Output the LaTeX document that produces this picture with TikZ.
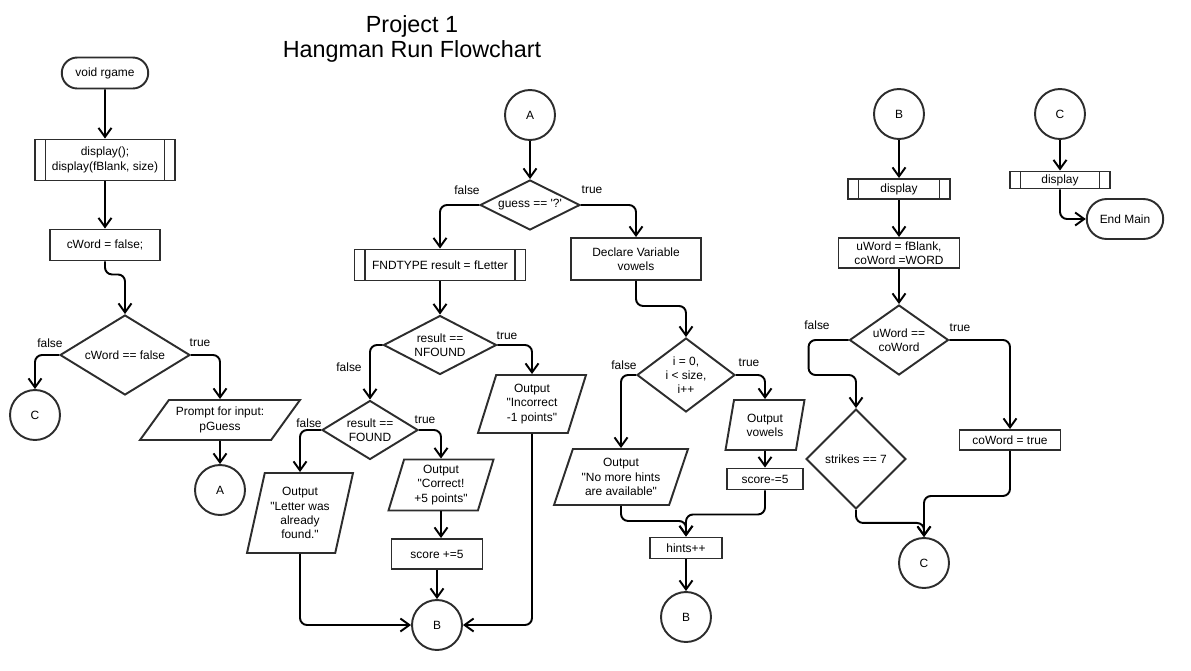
\documentclass[tikz,border=0pt]{standalone}
\usepackage{fontspec}
\newfontfamily\flowfont{Liberation Sans}
\usetikzlibrary{arrows.meta,shapes.geometric,shapes.misc}
\definecolor{mLine}{RGB}{45,45,45}
\tikzset{
  base/.style={draw=mLine, line width=1.1pt, align=center, inner sep=1pt,
    font=\flowfont\fontsize{6.8}{8.1}\selectfont},
  termbox/.style={base, rounded rectangle},
  procbox/.style={base, rectangle},
  subbox/.style={procbox, path picture={
      \draw[mLine, line width=1.1pt]
        ([xshift=2.1mm]path picture bounding box.north west) -- ([xshift=2.1mm]path picture bounding box.south west)
        ([xshift=-2.1mm]path picture bounding box.north east) -- ([xshift=-2.1mm]path picture bounding box.south east);}},
  iobox/.style 2 args={base, trapezium, trapezium left angle=#1, trapezium right angle=#2, trapezium stretches body},
  decbox/.style={base, diamond, inner sep=0pt},
  connbox/.style={base, circle, minimum size=10mm},
  flowln/.style={-{Straight Barb[length=1.8mm,width=2.6mm]}, line width=1.1pt, rounded corners=4pt},
  brlbl/.style={font=\flowfont\fontsize{6.8}{8.1}\selectfont, inner sep=0pt},
}
\begin{document}
\begin{tikzpicture}[x=0.02cm, y=-0.02cm]
  \useasboundingbox (0,0) rectangle (1191,670);
  \node[font=\flowfont\fontsize{13.3}{13.8}\selectfont, align=center] (title) at (412,39) {Project 1\\Hangman Run Flowchart};

  % void rgame
  \node[termbox, minimum width=18mm, minimum height=6.2mm] (start) at (105,73) {void rgame};
  \node[subbox, minimum width=28mm, minimum height=8.2mm] (disp1) at (105,160) {display();\\display(fBlank, size)};
  \node[procbox, minimum width=22mm, minimum height=6.2mm] (cword) at (105,245) {cWord = false;};
  \node[decbox, aspect=1.63, minimum width=26mm, minimum height=16mm] (dcword) at (125,355) {cWord == false};
  \node[connbox] (cleft) at (35,415) {C};
  \node[iobox={45}{135}, minimum width=32mm, minimum height=8mm] (prompt) at (220,420) {Prompt for input:\\pGuess};
  \node[connbox] (aleft) at (220,490) {A};

  % A: guess branch
  \node[connbox] (amid) at (530,115) {A};
  \node[decbox, aspect=2, minimum width=20mm, minimum height=10mm] (dguess) at (530,205) {guess == '?'};
  \node[subbox, minimum width=34.2mm, minimum height=6.2mm] (fnd) at (440,265) {FNDTYPE result = fLetter};
  \node[decbox, aspect=1.9, minimum width=22.6mm, minimum height=11.8mm] (dnf) at (440,345) {result ==\\NFOUND};
  \node[decbox, aspect=1.63, minimum width=19.2mm, minimum height=11.8mm] (dfo) at (370,430) {result ==\\FOUND};
  \node[iobox={72}{108}, minimum width=21.2mm, minimum height=16mm] (outfound) at (300,513) {Output\\"Letter was\\already\\found."};
  \node[iobox={70}{110}, minimum width=21mm, minimum height=10.2mm] (outright) at (441,485) {Output\\"Correct!\\+5 points"};
  \node[procbox, minimum width=18.2mm, minimum height=6mm] (scoreup) at (437,554) {score +=5};
  \node[iobox={67}{113}, minimum width=21.6mm, minimum height=11.6mm] (outwrong) at (532,404) {Output\\"Incorrect\\-1 points"};
  \node[connbox] (bmid) at (437,625) {B};

  % hint branch
  \node[procbox, minimum width=26mm, minimum height=8.4mm] (declare) at (636,259) {Declare Variable\\vowels};
  \node[decbox, aspect=1.32, minimum width=19.6mm, minimum height=14.8mm] (dloop) at (686,375) {i = 0,\\i < size,\\i++};
  \node[iobox={65}{115}, minimum width=26.8mm, minimum height=11.2mm] (outnone) at (621,477) {Output\\"No more hints\\are available"};
  \node[iobox={72}{108}, minimum width=15.8mm, minimum height=10mm] (outvow) at (765,425) {Output\\vowels};
  \node[procbox, minimum width=15.2mm, minimum height=4.2mm] (scoredn) at (765,479) {score-=5};
  \node[procbox, minimum width=14.4mm, minimum height=4.2mm] (hints) at (686,548) {hints++};
  \node[connbox] (bhint) at (686,617) {B};

  % B: check word
  \node[connbox] (btop) at (899,114) {B};
  \node[subbox, minimum width=20.4mm, minimum height=4mm] (dispb) at (899,189) {display};
  \node[procbox, minimum width=24.2mm, minimum height=6mm] (words) at (899,253) {uWord = fBlank,\\coWord =WORD};
  \node[decbox, aspect=1.41, minimum width=19.8mm, minimum height=14mm] (dwin) at (899,340) {uWord ==\\coWord};
  \node[decbox, aspect=1, minimum width=20mm, minimum height=20mm] (dlose) at (856,459) {strikes == 7};
  \node[procbox, minimum width=20.2mm, minimum height=4mm] (cotrue) at (1010,440) {coWord = true};
  \node[connbox] (cend) at (924,563) {C};

  % C: end
  \node[connbox] (ctop) at (1060,114) {C};
  \node[subbox, minimum width=20mm, minimum height=3.4mm] (dispc) at (1060,180) {display};
  \node[termbox, minimum width=16mm, minimum height=8mm] (endmain) at (1125,219) {End Main};

  % branch labels
  \node[brlbl] (f1) at (50,343) {false};
  \node[brlbl] (t1) at (200,343) {true};
  \node[brlbl] (f2) at (467,190) {false};
  \node[brlbl] (t2) at (592,190) {true};
  \node[brlbl] (f3) at (349,367) {false};
  \node[brlbl] (t3) at (507,336) {true};
  \node[brlbl] (f4) at (309,423) {false};
  \node[brlbl] (t4) at (425,420) {true};
  \node[brlbl] (f5) at (624,365) {false};
  \node[brlbl] (t5) at (749,363) {true};
  \node[brlbl] (f6) at (817,325) {false};
  \node[brlbl] (t6) at (960,328) {true};

  % connectors
  \draw[flowln] (start) -- (disp1);
  \draw[flowln] (disp1) -- (cword);
  \draw[flowln] (cword.south) -- ++(0,13) -| (dcword.north);
  \draw[flowln] (dcword.west) -| (cleft.north);
  \draw[flowln] (dcword.east) -| (prompt.north);
  \draw[flowln] (prompt) -- (aleft);

  \draw[flowln] (amid) -- (dguess);
  \draw[flowln] (dguess.west) -| (fnd.north);
  \draw[flowln] (dguess.east) -| (declare.north);
  \draw[flowln] (fnd) -- (dnf);
  \draw[flowln] (dnf.west) -| (dfo.north);
  \draw[flowln] (dnf.east) -| (outwrong.north);
  \draw[flowln] (dfo.west) -| (outfound.north);
  \draw[flowln] (dfo.east) -| (outright.north);
  \draw[flowln] (outright.south) -- (outright.south |- scoreup.north);
  \draw[flowln] (scoreup) -- (bmid);
  \draw[flowln] (outfound.south) |- (bmid.west);
  \draw[flowln] (outwrong.south) |- (bmid.east);

  \draw[flowln] (declare.south) -- ++(0,25) -| (dloop.north);
  \draw[flowln] (dloop.west) -| (outnone.north);
  \draw[flowln] (dloop.east) -| (outvow.north);
  \draw[flowln] (outvow) -- (scoredn);
  \draw[flowln] (scoredn.south) -- ++(0,24) -| (hints.north);
  \draw[flowln] (outnone.south) -- ++(0,15) -| (hints.north);
  \draw[flowln] (hints) -- (bhint);

  \draw[flowln] (btop) -- (dispb);
  \draw[flowln] (dispb) -- (words);
  \draw[flowln] (words) -- (dwin);
  \draw[flowln] (dwin.west) -| ++(-40,35) -| (dlose.north);
  \draw[flowln] (dwin.east) -| (cotrue.north);
  \draw[flowln] (dlose.south) -- ++(0,13) -| (cend.north);
  \draw[flowln] (cotrue.south) -- ++(0,45) -| (cend.north);
  \draw[flowln] (ctop) -- (dispc);
  \draw[flowln] (dispc.south) |- (endmain.west);
\end{tikzpicture}
\end{document}
